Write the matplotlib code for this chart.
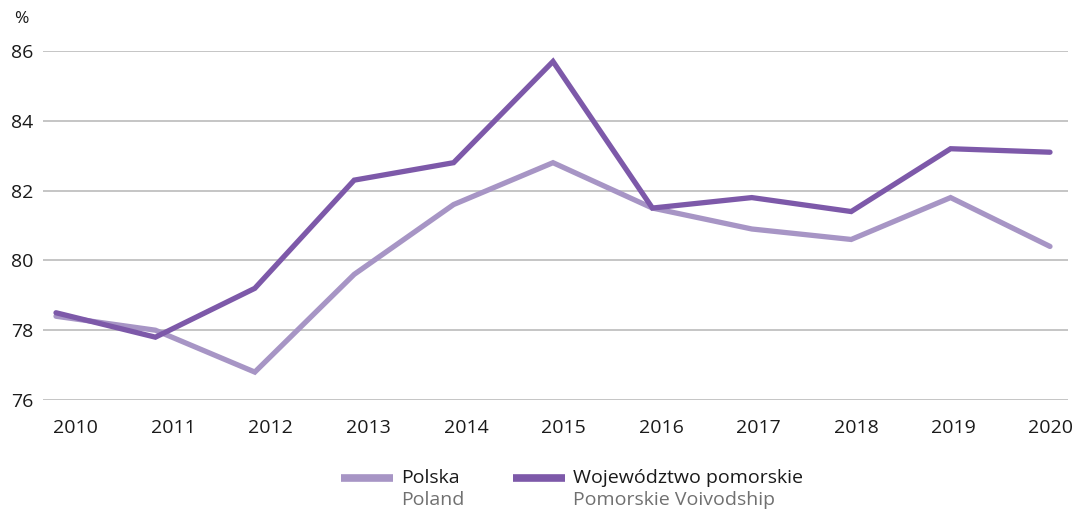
import matplotlib
matplotlib.use("Agg")
import matplotlib.pyplot as plt
import numpy as np
from matplotlib.lines import Line2D

plt.rcParams['font.family'] = ['Open Sans', 'DejaVu Sans']

years = [2010, 2011, 2012, 2013, 2014, 2015, 2016, 2017, 2018, 2019, 2020]
polska = [78.4, 78.0, 76.8, 79.6, 81.6, 82.8, 81.5, 80.9, 80.6, 81.8, 80.4]
pomorskie = [78.5, 77.8, 79.2, 82.3, 82.8, 85.7, 81.5, 81.8, 81.4, 83.2, 83.1]
y_ticks = [76, 78, 80, 82, 84, 86]

c_pl = '#a795c5'
c_pom = '#7d59a9'

W, H = 1082, 509
fig = plt.figure(figsize=(W / 100, H / 100), dpi=100)
ax = fig.add_axes([43 / W, 1 - 400 / H, (1068 - 43) / W, (400 - 51) / H])

ax.plot(years, polska, color=c_pl, lw=3.8, solid_capstyle='round', solid_joinstyle='miter', zorder=3)
ax.plot(years, pomorskie, color=c_pom, lw=3.8, solid_capstyle='round', solid_joinstyle='miter', zorder=4)

ax.set_ylim(76, 86)
ax.set_xlim(2010 - 13 / 99.4, 2020 + 18 / 99.4)
ax.set_yticks(y_ticks)
# category labels are spread evenly over a slightly narrower span than the data points
label_pos = np.linspace(years[0] + 0.2, years[-1] + 0.01, len(years))
ax.set_xticks(label_pos)
ax.set_xticklabels([str(y) for y in years])
ax.grid(axis='y', color='#b5b5b5', lw=1.1)
ax.grid(axis='x', visible=False)
ax.set_axisbelow(True)
for s in ax.spines.values():
    s.set_visible(False)
ax.tick_params(axis='both', length=0, labelsize=14, colors='#1a1a1a')
ax.tick_params(axis='y', pad=7)
ax.tick_params(axis='x', pad=14)

fig.text(14 / W, 1 - 19 / H, '%', fontsize=12.5, color='#1a1a1a', va='center', ha='left')

# legend
ly = 1 - 478 / H
for x0, x1, col in [(341, 393, c_pl), (513, 565, c_pom)]:
    fig.add_artist(Line2D([x0 / W, x1 / W], [ly, ly], color=col, lw=5.5, solid_capstyle='butt'))
fig.text(401 / W, ly, 'Polska', fontsize=14, color='#1a1a1a', va='center', ha='left')
fig.text(401 / W, 1 - 500 / H, 'Poland', fontsize=14, color='#707070', va='center', ha='left')
fig.text(573 / W, ly, 'Województwo pomorskie', fontsize=14, color='#1a1a1a', va='center', ha='left')
fig.text(573 / W, 1 - 500 / H, 'Pomorskie Voivodship', fontsize=14, color='#707070', va='center', ha='left')

fig.savefig('out.png', dpi=100)
